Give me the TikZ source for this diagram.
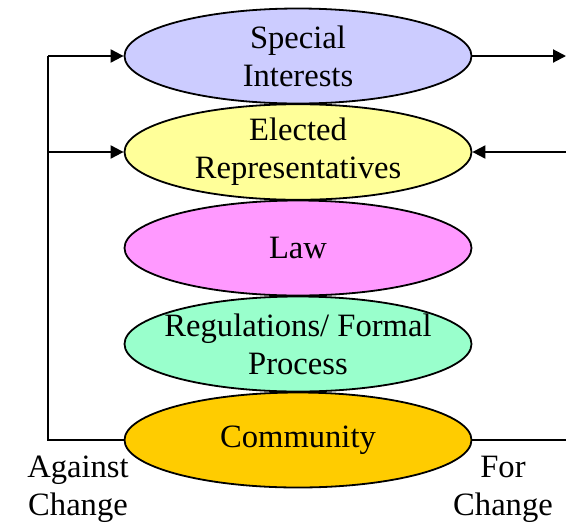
\documentclass[tikz,border=0pt]{standalone}
\usepackage{fontspec}
\setmainfont{Liberation Serif}
\usetikzlibrary{shapes.geometric,arrows.meta}

\definecolor{interestblue}{HTML}{CCCCFF}
\definecolor{electyellow}{HTML}{FFFF99}
\definecolor{lawpink}{HTML}{FF99FF}
\definecolor{regmint}{HTML}{99FFCC}
\definecolor{commorange}{HTML}{FFCC00}

\tikzset{
  oval/.style={ellipse, draw=black, line width=0.9pt, minimum width=173.5pt,
    minimum height=47.5pt, inner sep=0pt, align=center,
    font=\fontsize{16.3}{19}\selectfont},
  sidelabel/.style={align=center, font=\fontsize{16.3}{19}\selectfont}
}

\begin{document}
\begin{tikzpicture}[x=0.5pt, y=0.5pt, line width=1pt,
  >={Triangle[length=6.5pt,width=6.5pt]}]
\useasboundingbox (0,0) rectangle (566,527);

% nodes
\node[oval, fill=interestblue] (SI) at (298,471) {Special\\Interests};
\node[oval, fill=electyellow] (ER) at (298,375) {Elected\\Representatives};
\node[oval, fill=lawpink] (Law) at (298,279) {Law};
\node[oval, fill=regmint, inner xsep=-8pt] (Reg) at (298,183) {Regulations/ Formal\\Process};
\node[oval, fill=commorange] (Comm) at (298,87) {Community};

\node[sidelabel] (Against) at (78,38) {Against\\Change};
\node[sidelabel] (For) at (503,38) {For\\Change};

\coordinate (LB) at (48,87);
\coordinate (LM) at (48,375);
\coordinate (LT) at (48,471);
\coordinate (RT) at (566,471);
\coordinate (RM) at (566,375);
\coordinate (RB) at (566,87);

% arrows
\draw[black] (Comm.west) -- (LB) -- (LT);
\draw[->, black] (LT) -- (SI.west);
\draw[->, black] (LM) -- (ER.west);

\draw[->, black] (SI.east) -- (RT);
\draw[->, black] (RM) -- (ER.east);
\draw[black] (Comm.east) -- (RB);

\end{tikzpicture}
\end{document}
